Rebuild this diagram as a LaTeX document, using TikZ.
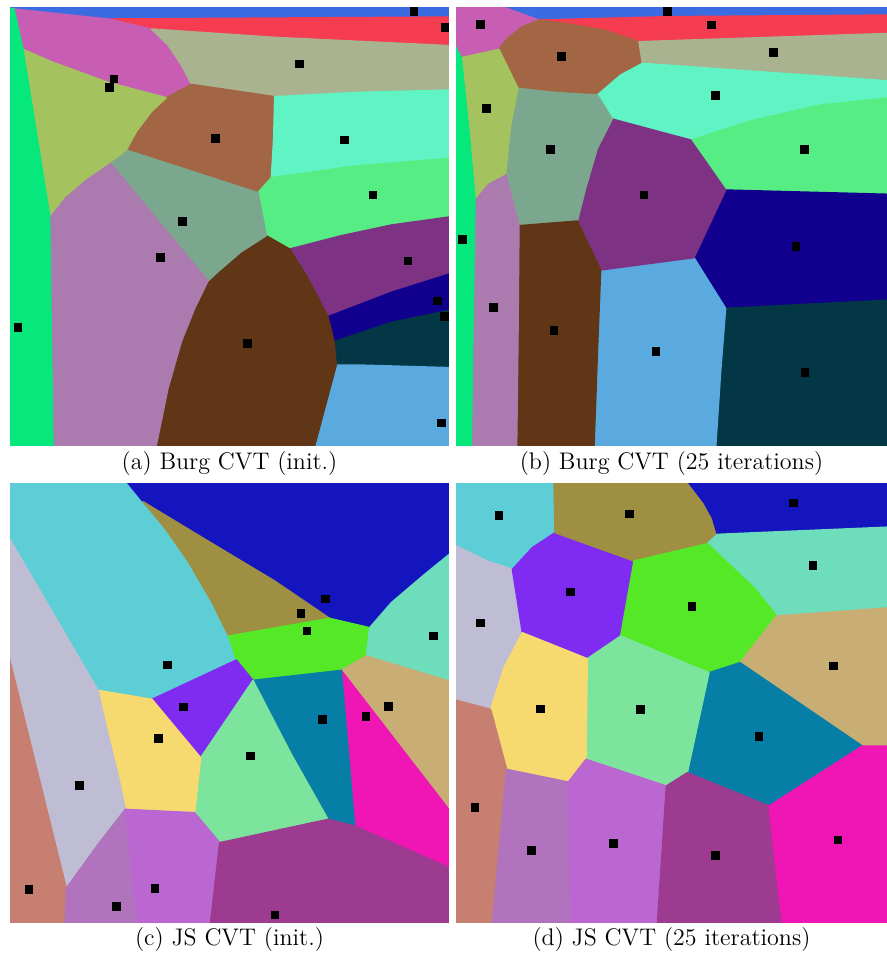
\documentclass[tikz,border=0pt]{standalone}
\definecolor{blueA}{HTML}{3A6BE0}
\definecolor{redA}{HTML}{F53C50}
\definecolor{pinkA}{HTML}{C75EB4}
\definecolor{sageA}{HTML}{A9B390}
\definecolor{aquaA}{HTML}{60F3C4}
\definecolor{greenA}{HTML}{56EE84}
\definecolor{purpleA}{HTML}{7E3283}
\definecolor{navyA}{HTML}{11008E}
\definecolor{tealA}{HTML}{033745}
\definecolor{lblueA}{HTML}{5AA9DF}
\definecolor{dbrownA}{HTML}{613616}
\definecolor{mauveA}{HTML}{AB7AAE}
\definecolor{grayA}{HTML}{7BA78F}
\definecolor{brownA}{HTML}{A26645}
\definecolor{oliveA}{HTML}{A4C35E}
\definecolor{sgreenA}{HTML}{06E77C}
\definecolor{cyanC}{HTML}{5ECED6}
\definecolor{oliveC}{HTML}{9E8F42}
\definecolor{dblueC}{HTML}{1515C0}
\definecolor{greenC}{HTML}{55E826}
\definecolor{mintC}{HTML}{6EDDBB}
\definecolor{tanC}{HTML}{C8AE74}
\definecolor{magC}{HTML}{F015B5}
\definecolor{tealC}{HTML}{077EA6}
\definecolor{lgreenC}{HTML}{7CE49D}
\definecolor{violC}{HTML}{7F2BF2}
\definecolor{yellowC}{HTML}{F6D96F}
\definecolor{lavC}{HTML}{BFBDD3}
\definecolor{salmonC}{HTML}{C67F70}
\definecolor{orchidC}{HTML}{B173BD}
\definecolor{violetC}{HTML}{BA67D2}
\definecolor{plumC}{HTML}{9C3B8F}
\begin{document}
\begin{tikzpicture}[x=0.5pt,y=-0.5pt,
  cell/.style={fill=#1,draw=#1,line width=0.7pt,line join=round},
  capt/.style={inner sep=0pt,font=\fontsize{12}{14}\selectfont}]
\useasboundingbox (0,0) rectangle (887,959);
\fill[white] (0,0) rectangle (887,959);

% ---------------- (a) ----------------
\begin{scope}[shift={(8,5)},scale=0.33333]
\clip (6,6) rectangle (1323,1323);
\path[cell=blueA] (0,0) -- (1330,0) -- (1330,36) -- (300,42) -- (18,12) -- (0,8) -- cycle;
\path[cell=redA] (300,42) -- (1330,36) -- (1330,122) -- (800,97) -- (430,72) -- cycle;
\path[cell=pinkA] (18,12) -- (300,42) -- (430,72) -- (480,120) -- (520,180) -- (550,238) -- (475,278) -- (300,232) -- (130,170) -- (45,133) -- cycle;
\path[cell=sageA] (430,72) -- (800,97) -- (1330,122) -- (1330,255) -- (1050,262) -- (800,275) -- (550,238) -- (520,180) -- (480,120) -- cycle;
\path[cell=brownA] (550,238) -- (800,275) -- (797,400) -- (790,518) -- (750,563) -- (355,435) -- (385,380) -- (430,320) -- (475,278) -- cycle;
\path[cell=aquaA] (800,275) -- (1050,262) -- (1330,255) -- (1330,460) -- (1050,482) -- (790,518) -- (797,400) -- cycle;
\path[cell=greenA] (790,518) -- (1050,482) -- (1330,460) -- (1330,635) -- (1150,660) -- (1000,692) -- (845,732) -- (775,692) -- (750,563) -- cycle;
\path[cell=purpleA] (845,732) -- (1000,692) -- (1150,660) -- (1330,635) -- (1330,805) -- (1150,862) -- (960,935) -- (900,820) -- cycle;
\path[cell=navyA] (960,935) -- (1150,862) -- (1330,805) -- (1330,915) -- (1150,952) -- (978,1010) -- cycle;
\path[cell=tealA] (978,1010) -- (1150,952) -- (1330,915) -- (1330,1088) -- (1050,1080) -- (985,1080) -- cycle;
\path[cell=lblueA] (985,1080) -- (1050,1080) -- (1330,1088) -- (1330,1330) -- (918,1330) -- cycle;
\path[cell=dbrownA] (775,692) -- (845,732) -- (900,820) -- (960,935) -- (978,1010) -- (985,1080) -- (918,1330) -- (443,1330) -- (480,1150) -- (520,1010) -- (560,910) -- (600,828) -- (630,800) -- (700,740) -- cycle;
\path[cell=grayA] (305,472) -- (355,435) -- (750,563) -- (775,692) -- (700,740) -- (630,800) -- (600,828) -- cycle;
\path[cell=mauveA] (125,632) -- (170,575) -- (235,520) -- (305,472) -- (600,828) -- (560,910) -- (520,1010) -- (480,1150) -- (443,1330) -- (135,1330) -- cycle;
\path[cell=oliveA] (45,133) -- (130,170) -- (300,232) -- (475,278) -- (430,320) -- (385,380) -- (355,435) -- (305,472) -- (235,520) -- (170,575) -- (125,632) -- cycle;
\path[cell=sgreenA] (0,8) -- (18,12) -- (45,133) -- (125,632) -- (135,1330) -- (0,1330) -- cycle;
\foreach \x/\y in {1218/20,1312/68,874/177,318/222,305/248,622/400,1010/405,1095/570,523/650,457/758,1200/768,1288/888,1310/935,30/968,719/1015,1300/1254}
  \fill[black] (\x-13,\y-13) rectangle (\x+13,\y+13);
\end{scope}

% ---------------- (b) ----------------
\begin{scope}[shift={(454,5)},scale=0.33333]
\clip (6,6) rectangle (1299,1323);
\path[cell=blueA] (130,0) -- (1310,0) -- (1310,30) -- (640,35) -- (255,45) -- cycle;
\path[cell=redA] (255,45) -- (640,35) -- (1310,30) -- (1310,85) -- (555,110) -- (450,75) -- (330,55) -- cycle;
\path[cell=pinkA] (0,0) -- (130,0) -- (255,45) -- (205,65) -- (160,100) -- (135,133) -- (22,158) -- (0,115) -- cycle;
\path[cell=brownA] (135,133) -- (160,100) -- (205,65) -- (255,45) -- (330,55) -- (450,75) -- (555,110) -- (565,175) -- (500,210) -- (430,270) -- (300,262) -- (192,250) -- cycle;
\path[cell=sageA] (555,110) -- (1310,85) -- (1310,228) -- (565,175) -- cycle;
\path[cell=aquaA] (565,175) -- (1310,228) -- (1310,278) -- (1100,300) -- (900,345) -- (710,405) -- (475,342) -- (430,270) -- (500,210) -- cycle;
\path[cell=greenA] (710,405) -- (900,345) -- (1100,300) -- (1310,278) -- (1310,568) -- (815,555) -- cycle;
\path[cell=navyA] (815,555) -- (1310,568) -- (1310,885) -- (815,910) -- (720,758) -- cycle;
\path[cell=tealA] (815,910) -- (1310,885) -- (1310,1330) -- (785,1330) -- (800,1100) -- cycle;
\path[cell=lblueA] (440,795) -- (720,758) -- (815,910) -- (800,1100) -- (785,1330) -- (420,1330) -- (430,1050) -- cycle;
\path[cell=purpleA] (475,342) -- (710,405) -- (815,555) -- (720,758) -- (440,795) -- (370,648) -- (395,550) -- (430,430) -- cycle;
\path[cell=grayA] (192,250) -- (300,262) -- (430,270) -- (475,342) -- (430,430) -- (395,550) -- (370,648) -- (195,662) -- (155,505) -- (170,360) -- cycle;
\path[cell=dbrownA] (195,662) -- (370,648) -- (440,795) -- (430,1050) -- (420,1330) -- (188,1330) -- (192,1000) -- cycle;
\path[cell=mauveA] (63,580) -- (100,535) -- (155,505) -- (195,662) -- (192,1000) -- (188,1330) -- (52,1330) -- (58,900) -- cycle;
\path[cell=oliveA] (22,158) -- (135,133) -- (192,250) -- (170,360) -- (155,505) -- (100,535) -- (63,580) -- (45,380) -- cycle;
\path[cell=sgreenA] (0,115) -- (22,158) -- (45,380) -- (63,580) -- (58,900) -- (52,1330) -- (0,1330) -- cycle;
\foreach \x/\y in {80/58,640/20,772/60,323/154,958/143,97/310,784/271,290/434,1051/434,570/570,25/704,1026/724,118/907,300/977,606/1040,1053/1102}
  \fill[black] (\x-13,\y-13) rectangle (\x+13,\y+13);
\end{scope}

% ---------------- (c) ----------------
\begin{scope}[shift={(8,481)},scale=0.33333]
\clip (6,6) rectangle (1323,1323);
\path[cell=cyanC] (0,0) -- (355,0) -- (405,62) -- (470,140) -- (540,240) -- (610,360) -- (662,465) -- (685,537) -- (432,655) -- (270,628) -- (0,165) -- cycle;
\path[cell=dblueC] (355,0) -- (1330,0) -- (1330,215) -- (1250,280) -- (1150,365) -- (1085,440) -- (965,412) -- (800,300) -- (600,180) -- (405,62) -- cycle;
\path[cell=oliveC] (405,62) -- (600,180) -- (800,300) -- (965,412) -- (662,465) -- (610,360) -- (540,240) -- (470,140) -- cycle;
\path[cell=greenC] (662,465) -- (965,412) -- (1085,440) -- (1075,525) -- (1000,568) -- (735,598) -- (685,537) -- cycle;
\path[cell=mintC] (1085,440) -- (1150,365) -- (1250,280) -- (1330,215) -- (1330,602) -- (1075,525) -- cycle;
\path[cell=tanC] (1000,568) -- (1075,525) -- (1330,602) -- (1330,995) -- cycle;
\path[cell=magC] (1000,568) -- (1330,995) -- (1330,1163) -- (1040,1035) -- cycle;
\path[cell=tealC] (735,598) -- (1000,568) -- (1040,1035) -- (960,1015) -- (850,820) -- cycle;
\path[cell=violC] (432,655) -- (685,537) -- (735,598) -- (578,830) -- cycle;
\path[cell=lgreenC] (735,598) -- (850,820) -- (960,1015) -- (635,1085) -- (560,995) -- (578,830) -- cycle;
\path[cell=yellowC] (270,628) -- (432,655) -- (578,830) -- (560,995) -- (352,985) -- (330,880) -- (300,760) -- cycle;
\path[cell=lavC] (0,165) -- (270,628) -- (300,760) -- (330,880) -- (352,985) -- (270,1090) -- (175,1222) -- (0,515) -- cycle;
\path[cell=salmonC] (0,515) -- (175,1222) -- (172,1330) -- (0,1330) -- cycle;
\path[cell=orchidC] (175,1222) -- (270,1090) -- (352,985) -- (370,1150) -- (390,1330) -- (172,1330) -- cycle;
\path[cell=violetC] (352,985) -- (560,995) -- (635,1085) -- (607,1330) -- (390,1330) -- (370,1150) -- cycle;
\path[cell=plumC] (635,1085) -- (960,1015) -- (1040,1035) -- (1330,1163) -- (1330,1330) -- (607,1330) -- cycle;
\foreach \x/\y in {952/354,879/398,897/450,1277/465,478/552,527/678,1141/676,1074/707,943/716,452/773,727/825,215/914,63/1226,441/1223,325/1277,801/1302}
  \fill[black] (\x-13,\y-13) rectangle (\x+13,\y+13);
\end{scope}

% ---------------- (d) ----------------
\begin{scope}[shift={(454,481)},scale=0.33333]
\clip (6,6) rectangle (1299,1323);
\path[cell=cyanC] (0,0) -- (300,0) -- (303,155) -- (235,200) -- (175,265) -- (100,240) -- (0,192) -- cycle;
\path[cell=lavC] (0,192) -- (100,240) -- (175,265) -- (205,455) -- (150,560) -- (110,685) -- (0,656) -- cycle;
\path[cell=violC] (303,155) -- (540,240) -- (500,465) -- (400,533) -- (205,455) -- (175,265) -- (235,200) -- cycle;
\path[cell=oliveC] (300,0) -- (700,0) -- (750,65) -- (775,110) -- (790,160) -- (760,188) -- (540,240) -- (303,155) -- cycle;
\path[cell=dblueC] (700,0) -- (1310,0) -- (1310,138) -- (790,160) -- (775,110) -- (750,65) -- cycle;
\path[cell=mintC] (760,188) -- (790,160) -- (1310,138) -- (1310,380) -- (968,405) -- (900,320) -- cycle;
\path[cell=greenC] (540,240) -- (760,188) -- (900,320) -- (968,405) -- (858,545) -- (765,575) -- (500,465) -- cycle;
\path[cell=tanC] (968,405) -- (1310,380) -- (1310,795) -- (1225,795) -- (858,545) -- cycle;
\path[cell=tealC] (765,575) -- (858,545) -- (1225,795) -- (945,975) -- (700,875) -- cycle;
\path[cell=lgreenC] (400,533) -- (500,465) -- (765,575) -- (700,875) -- (637,915) -- (396,835) -- cycle;
\path[cell=yellowC] (205,455) -- (400,533) -- (396,835) -- (343,903) -- (158,865) -- (110,685) -- (150,560) -- cycle;
\path[cell=salmonC] (0,656) -- (110,685) -- (158,865) -- (115,1330) -- (0,1330) -- cycle;
\path[cell=orchidC] (158,865) -- (343,903) -- (352,1330) -- (115,1330) -- cycle;
\path[cell=violetC] (343,903) -- (396,835) -- (637,915) -- (610,1330) -- (352,1330) -- cycle;
\path[cell=plumC] (637,915) -- (700,875) -- (945,975) -- (985,1330) -- (610,1330) -- cycle;
\path[cell=magC] (945,975) -- (1225,795) -- (1310,795) -- (1310,1330) -- (985,1330) -- cycle;
\foreach \x/\y in {135/104,527/99,1018/66,1077/254,349/333,714/377,79/426,1139/555,259/684,560/686,915/766,63/979,233/1108,478/1087,784/1123,1152/1077}
  \fill[black] (\x-13,\y-13) rectangle (\x+13,\y+13);
\end{scope}

% ---------------- captions ----------------
\node[capt] (capa) at (229.5,464) {(a) Burg CVT (init.)};
\node[capt] (capb) at (671.5,464) {(b) Burg CVT (25 iterations)};
\node[capt] (capc) at (229.5,940) {(c) JS CVT (init.)};
\node[capt] (capd) at (671.5,940) {(d) JS CVT (25 iterations)};
\end{tikzpicture}
\end{document}
